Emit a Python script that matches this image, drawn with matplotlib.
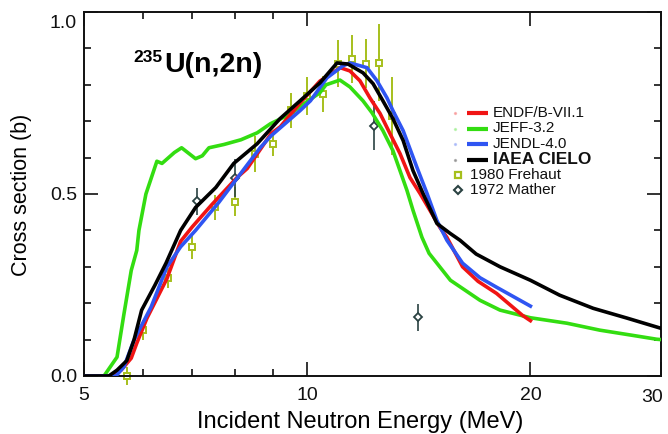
import matplotlib
matplotlib.use("Agg")
import matplotlib.pyplot as plt
from matplotlib.lines import Line2D
from matplotlib.ticker import FixedLocator, FixedFormatter, NullFormatter

plt.rcParams["font.family"] = ["Liberation Sans", "DejaVu Sans"]

# ---------------- evaluated cross sections (MeV, barn) ----------------
endf_e = [5.0, 5.45, 5.61, 5.79, 5.89, 6.08, 6.47, 6.75, 7.0, 7.43, 8.04, 8.3, 8.94,
          9.2, 9.78, 10.4, 11.08, 11.42, 11.78, 12.15, 12.54, 12.93, 13.34, 13.76,
          14.2, 14.64, 15.1, 15.43, 16.2, 17.0, 18.0, 19.5, 20.0]
endf_xs = [0.0, 0.0, 0.016, 0.049, 0.09, 0.159, 0.268, 0.37, 0.41, 0.47, 0.545, 0.57, 0.666,
           0.685, 0.75, 0.81, 0.847, 0.838, 0.811, 0.764, 0.721, 0.666, 0.611, 0.545,
           0.501, 0.455, 0.408, 0.381, 0.30, 0.26, 0.227, 0.167, 0.152]

jeff_e = [5.0, 5.32, 5.54, 5.66, 5.79, 5.89, 5.93, 6.06, 6.27, 6.37, 6.62, 6.77, 7.07,
          7.22, 7.37, 7.72, 8.14, 8.56, 8.92, 9.5, 9.9, 10.4, 10.6, 11.07, 11.42,
          11.89, 12.23, 12.65, 13.05, 13.34, 13.63, 13.89, 14.28, 14.6, 15.6, 17.1,
          18.2, 20.0, 22.4, 24.8, 27.4, 29.6, 30.0]
jeff_xs = [0.0, 0.0, 0.052, 0.17, 0.29, 0.345, 0.40, 0.50, 0.59, 0.584, 0.614, 0.627, 0.597,
           0.605, 0.627, 0.636, 0.649, 0.668, 0.693, 0.72, 0.748, 0.778, 0.80, 0.813, 0.794,
           0.756, 0.723, 0.674, 0.619, 0.564, 0.510, 0.455, 0.381, 0.337, 0.263, 0.208,
           0.181, 0.16, 0.145, 0.126, 0.112, 0.101, 0.10]

jendl_e = [5.0, 5.52, 5.66, 5.84, 6.16, 6.47, 6.75, 7.07, 7.6, 8.64, 8.94, 9.78, 10.1,
           10.63, 11.17, 11.42, 12.04, 12.42, 12.81, 13.05, 13.47, 14.06, 14.51, 14.96,
           15.43, 16.2, 17.1, 18.0, 20.0]
jendl_xs = [0.0, 0.0, 0.025, 0.099, 0.19, 0.30, 0.355, 0.40, 0.477, 0.627, 0.66, 0.729, 0.756,
            0.819, 0.852, 0.860, 0.847, 0.811, 0.764, 0.729, 0.674, 0.573, 0.501, 0.427,
            0.373, 0.31, 0.27, 0.244, 0.192]

cielo_e = [5.0, 5.40, 5.54, 5.71, 5.84, 5.98, 6.23, 6.45, 6.75, 7.07, 7.53, 7.96, 8.56,
           9.19, 9.78, 10.40, 10.97, 11.35, 11.89, 12.27, 12.65, 13.05, 13.47, 13.89,
           14.33, 14.96, 15.58, 16.07, 16.90, 18.20, 20.00, 21.90, 24.30, 27.00, 30.00]
cielo_xs = [0.0, 0.0, 0.016, 0.042, 0.099, 0.181, 0.249, 0.310, 0.400, 0.463, 0.518, 0.584, 0.638,
            0.707, 0.756, 0.805, 0.860, 0.857, 0.833, 0.803, 0.756, 0.707, 0.647, 0.564,
            0.501, 0.419, 0.392, 0.373, 0.335, 0.300, 0.263, 0.222, 0.186, 0.159, 0.131]

# ---------------- measurements ----------------
frehaut_e = [5.72, 6.0, 6.5, 7.0, 7.5, 8.0, 8.5, 9.0, 9.5, 10.0, 10.5, 11.0, 11.5, 12.0, 12.5, 13.0]
frehaut_xs = [0.0, 0.126, 0.27, 0.354, 0.463, 0.479, 0.61, 0.638, 0.73, 0.77, 0.775, 0.858,
              0.871, 0.858, 0.861, 0.715]
frehaut_err = [0.025, 0.027, 0.027, 0.032, 0.034, 0.04, 0.05, 0.034, 0.048, 0.052, 0.05, 0.064,
               0.067, 0.068, 0.105, 0.107]

mather_e = [7.1, 8.0, 12.3, 14.1]
mather_xs = [0.48, 0.545, 0.688, 0.162]
mather_err = [0.037, 0.052, 0.068, 0.037]

x_ticks = [5, 10, 20, 30]
x_tick_labels = ["5", "10", "20", ""]
x_minor = [6, 7, 8, 9]
y_ticks = [0.0, 0.5, 1.0]
y_tick_labels = ["0.0", "0.5", ""]
y_minor = [0.1, 0.2, 0.3, 0.4, 0.6, 0.7, 0.8, 0.9]

RED, GREEN, BLUE, BLACK = "#f01414", "#33dd11", "#2f55f2", "#000000"
FREHAUT_C, MATHER_C = "#a6bf1c", "#2a4242"

W, H = 668, 434
fig = plt.figure(figsize=(W / 100, H / 100), dpi=100)
ax = fig.add_axes([84 / W, 1 - 376 / H, 577 / W, 364 / H])


def fx(px):
    return px / W


def fy(py):
    return 1 - py / H


# measurements underneath the evaluations
ax.errorbar(frehaut_e, frehaut_xs, yerr=frehaut_err, fmt="s", ms=5, mfc="white",
            mec=FREHAUT_C, mew=1.4, ecolor=FREHAUT_C, elinewidth=1.4, capsize=0,
            zorder=2, clip_on=False)
ax.errorbar(mather_e, mather_xs, yerr=mather_err, fmt="D", ms=4.2, mfc="white",
            mec=MATHER_C, mew=1.3, ecolor=MATHER_C, elinewidth=1.2, capsize=0, zorder=2)

lw = 2.6
ax.plot(jeff_e, jeff_xs, color=GREEN, lw=lw, zorder=3, solid_joinstyle="round")
ax.plot(endf_e, endf_xs, color=RED, lw=lw, zorder=4, solid_joinstyle="round")
ax.plot(jendl_e, jendl_xs, color=BLUE, lw=lw, zorder=5, solid_joinstyle="round")
ax.plot(cielo_e, cielo_xs, color=BLACK, lw=lw, zorder=6, solid_joinstyle="round")

# axes, ticks
ax.set_xscale("log")
ax.set_xlim(5, 30)
ax.set_ylim(0, 1.0)
ax.xaxis.set_major_locator(FixedLocator(x_ticks))
ax.xaxis.set_major_formatter(FixedFormatter(x_tick_labels))
ax.xaxis.set_minor_locator(FixedLocator(x_minor))
ax.xaxis.set_minor_formatter(NullFormatter())
ax.yaxis.set_major_locator(FixedLocator(y_ticks))
ax.yaxis.set_major_formatter(FixedFormatter(y_tick_labels))
ax.yaxis.set_minor_locator(FixedLocator(y_minor))
ax.tick_params(which="both", direction="in", top=True, right=True, width=1.2,
               labelsize=14, colors="#111111")
ax.tick_params(which="major", length=10)
ax.tick_params(which="minor", length=5)
ax.tick_params(axis="x", which="major", pad=8)
ax.tick_params(axis="y", which="major", pad=5)
for s in ax.spines.values():
    s.set_linewidth(1.4)
    s.set_color("#111111")

# the end labels sit inside the figure edges
fig.text(fx(77), fy(23), "1.0", ha="right", va="center", fontsize=14, color="#111111")
fig.text(fx(652), fy(397), "30", ha="center", va="center", fontsize=14, color="#111111")

# axis titles
fig.text(fx(22), fy(195), "Cross section (b)", rotation=90, ha="center", va="center",
         fontsize=15.5)
fig.text(fx(360), fy(428), "Incident Neutron Energy (MeV)", ha="center", va="baseline",
         fontsize=17)

# reaction label
fig.text(fx(163), fy(62), "235", ha="right", va="baseline", fontsize=12.5, fontweight="bold")
fig.text(fx(164), fy(72), "U(n,2n)", ha="left", va="baseline", fontsize=20.5,
         fontweight="bold")

# legend
rows = [113, 128.5, 144, 159.5, 175, 190.5]
line_entries = [("ENDF/B-VII.1", RED, "normal", 11),
                ("JEFF-3.2", GREEN, "normal", 11),
                ("JENDL-4.0", BLUE, "normal", 11),
                ("IAEA CIELO", BLACK, "bold", 12.5)]
for (label, col, weight, size), y in zip(line_entries, rows[:4]):
    fig.add_artist(Line2D([fx(455)], [fy(y)], marker="o", ms=1.4, color=col, alpha=0.25,
                          lw=0))
    fig.add_artist(Line2D([fx(467), fx(488)], [fy(y), fy(y)], color=col, lw=3.0,
                          solid_capstyle="butt"))
    fig.text(fx(493), fy(y), label, ha="left", va="center", fontsize=size,
             fontweight=weight, color="#111111")

fig.add_artist(Line2D([fx(458)], [fy(rows[4])], marker="s", ms=4.5, mfc="white",
                      mec=FREHAUT_C, mew=1.6, lw=0))
fig.text(fx(470), fy(rows[4]), "1980 Frehaut", ha="left", va="center", fontsize=11,
         color="#111111")
fig.add_artist(Line2D([fx(458)], [fy(rows[5])], marker="D", ms=4, mfc="white",
                      mec=MATHER_C, mew=1.5, lw=0))
fig.text(fx(470), fy(rows[5]), "1972 Mather", ha="left", va="center", fontsize=11,
         color="#111111")

fig.savefig("out.png", dpi=100)
